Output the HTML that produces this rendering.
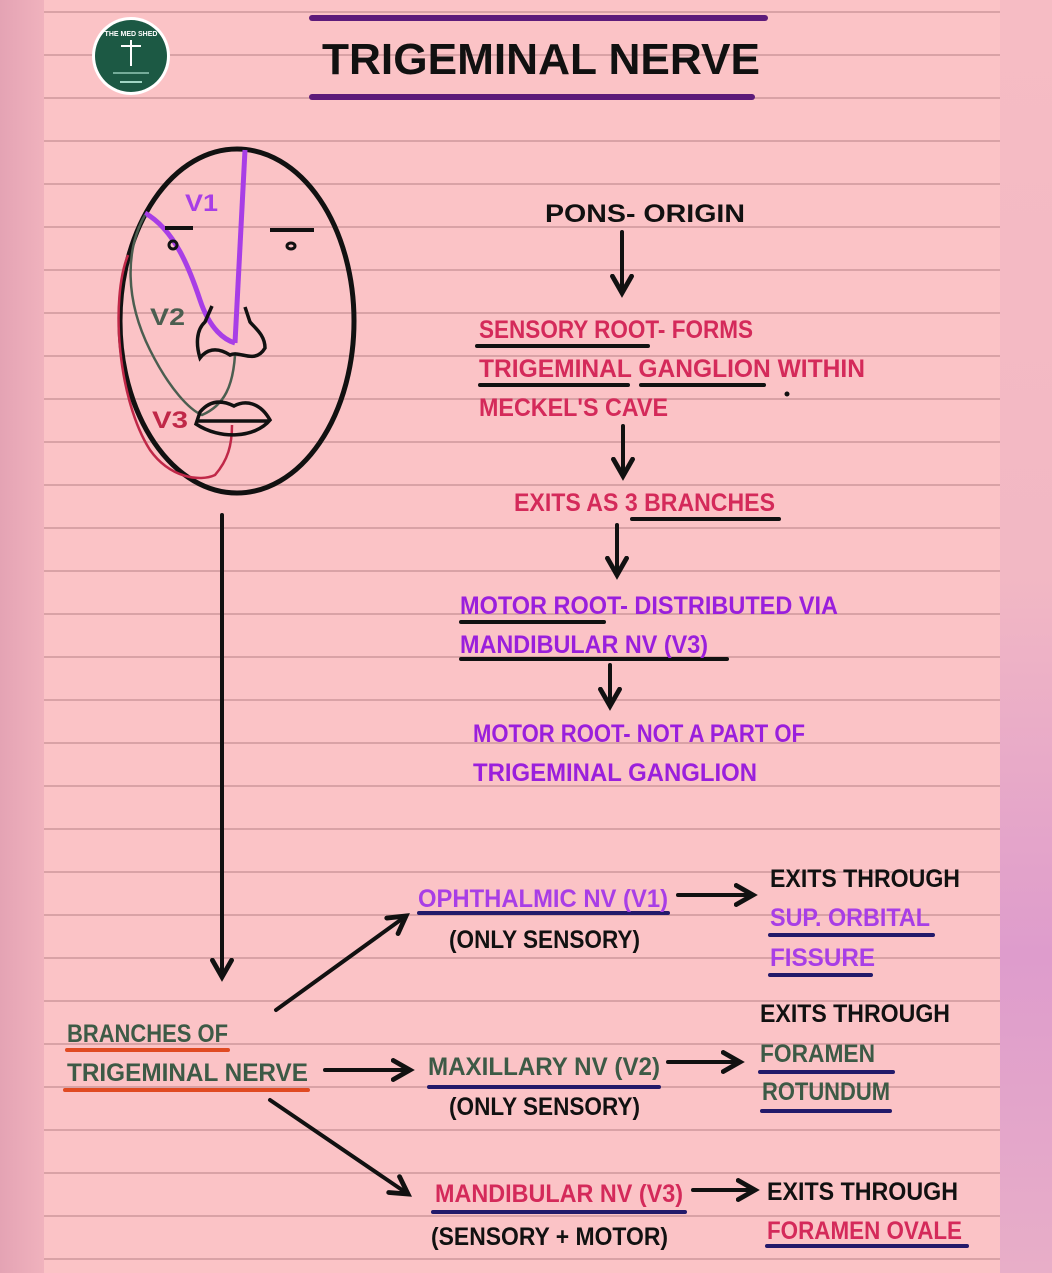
<!DOCTYPE html>
<html><head><meta charset="utf-8"><style>
html,body{margin:0;padding:0;width:1052px;height:1273px;overflow:hidden;background:#fbc3c6}
svg{display:block}
text{font-family:"Liberation Sans",sans-serif;font-weight:bold}
</style></head><body>
<svg width="1052" height="1273" viewBox="0 0 1052 1273" xmlns="http://www.w3.org/2000/svg" font-size="25">
<defs>
<linearGradient id="lb" x1="0" x2="1" y1="0" y2="0"><stop offset="0" stop-color="#e4a3b4"/><stop offset="1" stop-color="#f0b2bd"/></linearGradient>
<linearGradient id="rb" x1="0" x2="0" y1="0" y2="1"><stop offset="0" stop-color="#f6bcc4"/><stop offset="0.45" stop-color="#f2b8c4"/><stop offset="0.75" stop-color="#de9ccc"/><stop offset="1" stop-color="#e8aec8"/></linearGradient>
<marker id="ah" viewBox="0 0 10 10" refX="8" refY="5" markerWidth="6" markerHeight="6" orient="auto"><path d="M1,1 L8,5 L1,9" fill="none" stroke="#111" stroke-width="2" stroke-linecap="round"/></marker>
</defs>
<rect x="0" y="0" width="1052" height="1273" fill="#fbc3c6"/>
<rect x="0" y="0" width="44" height="1273" fill="url(#lb)"/>
<rect x="1000" y="0" width="52" height="1273" fill="url(#rb)"/>
<g stroke="#d9a2a6" stroke-width="2">
<line x1="44" x2="1000" y1="12" y2="12"/><line x1="44" x2="1000" y1="55" y2="55"/><line x1="44" x2="1000" y1="98" y2="98"/><line x1="44" x2="1000" y1="141" y2="141"/><line x1="44" x2="1000" y1="184" y2="184"/><line x1="44" x2="1000" y1="227" y2="227"/><line x1="44" x2="1000" y1="270" y2="270"/><line x1="44" x2="1000" y1="313" y2="313"/><line x1="44" x2="1000" y1="356" y2="356"/><line x1="44" x2="1000" y1="399" y2="399"/><line x1="44" x2="1000" y1="442" y2="442"/><line x1="44" x2="1000" y1="485" y2="485"/><line x1="44" x2="1000" y1="528" y2="528"/><line x1="44" x2="1000" y1="571" y2="571"/><line x1="44" x2="1000" y1="614" y2="614"/><line x1="44" x2="1000" y1="657" y2="657"/><line x1="44" x2="1000" y1="700" y2="700"/><line x1="44" x2="1000" y1="743" y2="743"/><line x1="44" x2="1000" y1="786" y2="786"/><line x1="44" x2="1000" y1="829" y2="829"/><line x1="44" x2="1000" y1="872" y2="872"/><line x1="44" x2="1000" y1="915" y2="915"/><line x1="44" x2="1000" y1="958" y2="958"/><line x1="44" x2="1000" y1="1001" y2="1001"/><line x1="44" x2="1000" y1="1044" y2="1044"/><line x1="44" x2="1000" y1="1087" y2="1087"/><line x1="44" x2="1000" y1="1130" y2="1130"/><line x1="44" x2="1000" y1="1173" y2="1173"/><line x1="44" x2="1000" y1="1216" y2="1216"/><line x1="44" x2="1000" y1="1259" y2="1259"/>
</g>

<!-- logo -->
<circle cx="131" cy="56" r="39" fill="#fff"/>
<circle cx="131" cy="56" r="36" fill="#1c5944"/>
<text x="131" y="36" style="font-size:7px" fill="#fff" text-anchor="middle">THE MED SHED</text>
<path d="M131 40 V66 M121 46 H141" stroke="#fff" stroke-width="2"/>
<line x1="113" x2="149" y1="73" y2="73" stroke="#cfe" stroke-width="1"/>
<line x1="120" x2="142" y1="82" y2="82" stroke="#cfe" stroke-width="1.5"/>

<!-- title -->
<line x1="312" x2="765" y1="18" y2="18" stroke="#5d1b7a" stroke-width="6" stroke-linecap="round"/>
<line x1="312" x2="752" y1="97" y2="97" stroke="#5d1b7a" stroke-width="6" stroke-linecap="round"/>
<text x="322" y="74" style="font-size:44px" fill="#111" textLength="438" lengthAdjust="spacingAndGlyphs">TRIGEMINAL NERVE</text>

<!-- face -->
<ellipse cx="237" cy="321" rx="117" ry="172" fill="none" stroke="#111" stroke-width="5"/>
<path d="M245 150 L235 343" stroke="#a83ee6" stroke-width="5" fill="none"/>
<path d="M145 213 C175 230 190 270 200 300 C210 330 225 340 235 343" stroke="#a83ee6" stroke-width="5" fill="none"/>
<path d="M145 215 C125 250 125 300 150 350 C170 390 190 410 202 415 C225 405 233 385 235 355" stroke="#4b5e50" stroke-width="2.5" fill="none"/>
<path d="M128 255 C110 300 118 400 150 450 C170 478 200 482 215 475 C228 460 232 445 232 425" stroke="#c02848" stroke-width="2.5" fill="none"/>
<line x1="165" x2="193" y1="228" y2="228" stroke="#111" stroke-width="4"/>
<circle cx="173" cy="245" r="4" fill="none" stroke="#111" stroke-width="3"/>
<line x1="270" x2="314" y1="230" y2="230" stroke="#111" stroke-width="4"/>
<ellipse cx="291" cy="246" rx="4" ry="3" fill="none" stroke="#111" stroke-width="3"/>
<path d="M212 306 L205 322 C196 330 196 345 200 358 C206 350 216 346 230 355 C240 350 255 365 265 348 C265 335 255 328 250 322 L245 307" stroke="#111" stroke-width="3.5" fill="none"/>
<path d="M200 412 C210 400 222 400 234 406 C245 400 260 402 270 420 C255 438 220 440 196 424 Z M196 421 H268" stroke="#111" stroke-width="3.5" fill="none"/>
<text x="185" y="211" fill="#a83ee6" style="font-size:24px" textLength="33" lengthAdjust="spacingAndGlyphs">V1</text>
<text x="150" y="325" fill="#4b5e50" style="font-size:24px" textLength="35" lengthAdjust="spacingAndGlyphs">V2</text>
<text x="152" y="428" fill="#c02848" style="font-size:24px" textLength="36" lengthAdjust="spacingAndGlyphs">V3</text>

<!-- flow -->
<g fill="none" stroke="#111" stroke-width="4" stroke-linecap="round">
<line x1="622" y1="232" x2="622" y2="293" marker-end="url(#ah)"/>
<line x1="623" y1="426" x2="623" y2="476" marker-end="url(#ah)"/>
<line x1="617" y1="525" x2="617" y2="575" marker-end="url(#ah)"/>
<line x1="610" y1="665" x2="610" y2="706" marker-end="url(#ah)"/>
<line x1="222" y1="515" x2="222" y2="977" marker-end="url(#ah)"/>
<line x1="276" y1="1010" x2="406" y2="916" marker-end="url(#ah)"/>
<line x1="325" y1="1070" x2="410" y2="1070" marker-end="url(#ah)"/>
<line x1="270" y1="1100" x2="408" y2="1194" marker-end="url(#ah)"/>
<line x1="678" y1="895" x2="753" y2="895" marker-end="url(#ah)"/>
<line x1="668" y1="1062" x2="740" y2="1062" marker-end="url(#ah)"/>
<line x1="693" y1="1190" x2="755" y2="1190" marker-end="url(#ah)"/>
</g>
<g stroke="#111" stroke-width="4" stroke-linecap="round">
<line x1="477" x2="648" y1="346" y2="346"/>
<line x1="480" x2="628" y1="385" y2="385"/>
<line x1="641" x2="764" y1="385" y2="385"/>
<line x1="632" x2="779" y1="519" y2="519"/>
<line x1="461" x2="604" y1="622" y2="622"/>
<line x1="461" x2="727" y1="659" y2="659"/>
</g>
<circle cx="787" cy="394" r="2.5" fill="#111"/>
<g stroke="#231a6a" stroke-width="4" stroke-linecap="round">
<line x1="419" x2="668" y1="913" y2="913"/>
<line x1="770" x2="933" y1="935" y2="935"/>
<line x1="770" x2="871" y1="975" y2="975"/>
<line x1="429" x2="659" y1="1087" y2="1087"/>
<line x1="760" x2="893" y1="1072" y2="1072"/>
<line x1="762" x2="890" y1="1111" y2="1111"/>
<line x1="433" x2="685" y1="1212" y2="1212"/>
<line x1="767" x2="967" y1="1246" y2="1246"/>
</g>
<g stroke="#e04a22" stroke-width="4" stroke-linecap="round">
<line x1="67" x2="228" y1="1050" y2="1050"/>
<line x1="65" x2="308" y1="1090" y2="1090"/>
</g>

<g>
<text x="545" y="222" fill="#111" textLength="200" lengthAdjust="spacingAndGlyphs">PONS- ORIGIN</text>
<text x="479" y="338" fill="#d42a5a" textLength="274" lengthAdjust="spacingAndGlyphs">SENSORY ROOT- FORMS</text>
<text x="479" y="377" fill="#d42a5a" textLength="386" lengthAdjust="spacingAndGlyphs">TRIGEMINAL GANGLION WITHIN</text>
<text x="479" y="416" fill="#d42a5a" textLength="189" lengthAdjust="spacingAndGlyphs">MECKEL'S CAVE</text>
<text x="514" y="511" fill="#d42a5a" textLength="261" lengthAdjust="spacingAndGlyphs">EXITS AS 3 BRANCHES</text>
<text x="460" y="614" fill="#9a1fdc" textLength="378" lengthAdjust="spacingAndGlyphs">MOTOR ROOT- DISTRIBUTED VIA</text>
<text x="460" y="653" fill="#9a1fdc" textLength="248" lengthAdjust="spacingAndGlyphs">MANDIBULAR NV (V3)</text>
<text x="473" y="742" fill="#9a1fdc" textLength="332" lengthAdjust="spacingAndGlyphs">MOTOR ROOT- NOT A PART OF</text>
<text x="473" y="781" fill="#9a1fdc" textLength="284" lengthAdjust="spacingAndGlyphs">TRIGEMINAL GANGLION</text>

<text x="418" y="907" fill="#a83ee6" textLength="250" lengthAdjust="spacingAndGlyphs">OPHTHALMIC NV (V1)</text>
<text x="449" y="948" fill="#111" textLength="191" lengthAdjust="spacingAndGlyphs">(ONLY SENSORY)</text>
<text x="770" y="887" fill="#111" textLength="190" lengthAdjust="spacingAndGlyphs">EXITS THROUGH</text>
<text x="770" y="926" fill="#a83ee6" textLength="160" lengthAdjust="spacingAndGlyphs">SUP. ORBITAL</text>
<text x="770" y="966" fill="#a83ee6" textLength="105" lengthAdjust="spacingAndGlyphs">FISSURE</text>

<text x="67" y="1042" fill="#3d5a46" textLength="161" lengthAdjust="spacingAndGlyphs">BRANCHES OF</text>
<text x="67" y="1081" fill="#3d5a46" textLength="241" lengthAdjust="spacingAndGlyphs">TRIGEMINAL NERVE</text>

<text x="428" y="1075" fill="#3d5a46" textLength="232" lengthAdjust="spacingAndGlyphs">MAXILLARY NV (V2)</text>
<text x="449" y="1115" fill="#111" textLength="191" lengthAdjust="spacingAndGlyphs">(ONLY SENSORY)</text>
<text x="760" y="1022" fill="#111" textLength="190" lengthAdjust="spacingAndGlyphs">EXITS THROUGH</text>
<text x="760" y="1062" fill="#3d5a46" textLength="115" lengthAdjust="spacingAndGlyphs">FORAMEN</text>
<text x="762" y="1100" fill="#3d5a46" textLength="128" lengthAdjust="spacingAndGlyphs">ROTUNDUM</text>

<text x="435" y="1202" fill="#d42a5a" textLength="248" lengthAdjust="spacingAndGlyphs">MANDIBULAR NV (V3)</text>
<text x="431" y="1245" fill="#111" textLength="237" lengthAdjust="spacingAndGlyphs">(SENSORY + MOTOR)</text>
<text x="767" y="1200" fill="#111" textLength="191" lengthAdjust="spacingAndGlyphs">EXITS THROUGH</text>
<text x="767" y="1239" fill="#d42a5a" textLength="195" lengthAdjust="spacingAndGlyphs">FORAMEN OVALE</text>
</g>
</svg>
</body></html>
